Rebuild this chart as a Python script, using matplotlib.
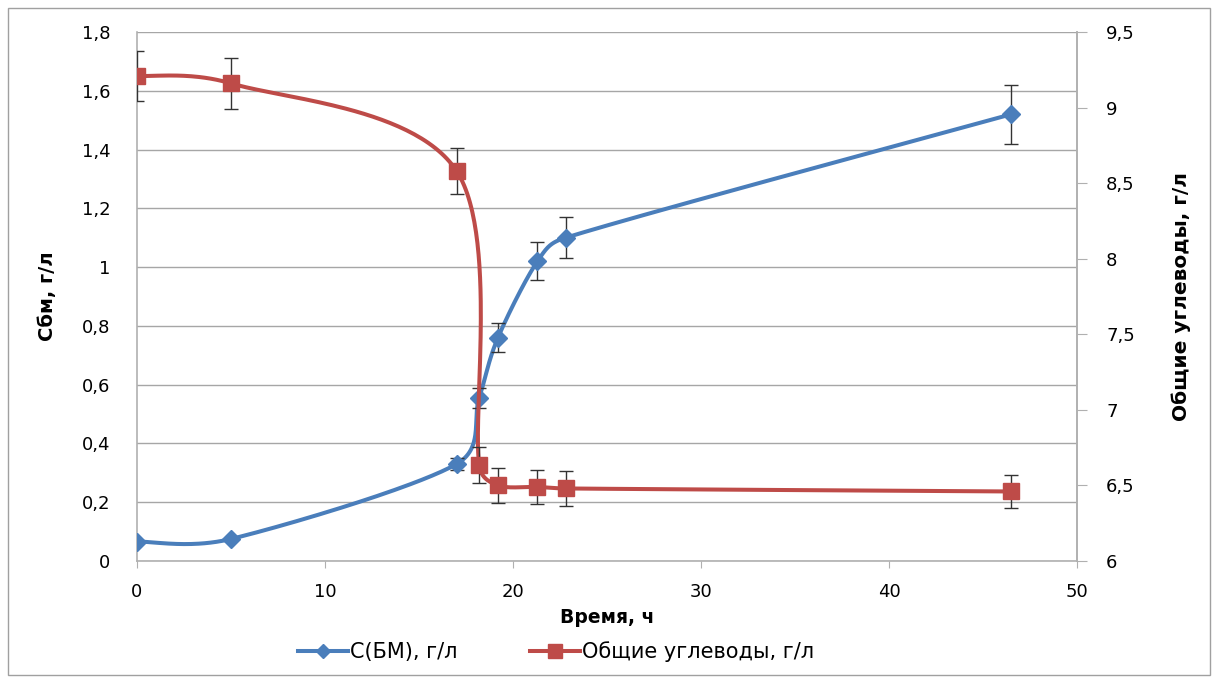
import numpy as np
import matplotlib.pyplot as plt
from matplotlib.ticker import FuncFormatter

# time, h
t = [0, 5, 17, 18.2, 19.2, 21.3, 22.8, 46.5]
# C(BM), g/l
biomass = [0.066, 0.075, 0.33, 0.555, 0.76, 1.02, 1.10, 1.52]
biomass_err = [0, 0, 0.02, 0.034, 0.05, 0.065, 0.07, 0.10]
# total carbohydrates, g/l
carbs = [9.21, 9.16, 8.58, 6.635, 6.50, 6.49, 6.48, 6.46]
carbs_err = [0.165, 0.17, 0.15, 0.12, 0.115, 0.115, 0.115, 0.11]

blue = '#4a7ebb'
red = '#be4b48'
grid_c = '#a6a6a6'


def excel_smooth(ax, x, y, n=60):
    # Excel-like smoothing: cubic Bezier in display space, arms clamped
    pts = ax.transData.transform(np.column_stack([x, y]))
    m = len(pts)
    tang = []
    for i in range(m):
        a = pts[max(i - 1, 0)]
        b = pts[min(i + 1, m - 1)]
        tang.append((b - a) / 6)
    out = []
    for i in range(m - 1):
        p1, p2 = pts[i], pts[i + 1]
        seg_len = np.hypot(*(p2 - p1))
        t1, t2 = tang[i], tang[i + 1]
        l1, l2 = np.hypot(*t1), np.hypot(*t2)
        lim = seg_len * 0.45
        if l1 > lim:
            t1 = t1 * lim / l1
        if l2 > lim:
            t2 = t2 * lim / l2
        c1 = p1 + t1
        c2 = p2 - t2
        s = np.linspace(0, 1, n)[:, None]
        seg = ((1 - s) ** 3) * p1 + 3 * ((1 - s) ** 2) * s * c1 + 3 * (1 - s) * s ** 2 * c2 + s ** 3 * p2
        out.append(seg)
    out = np.vstack(out)
    d = ax.transData.inverted().transform(out)
    return d[:, 0], d[:, 1]


comma = FuncFormatter(lambda v, p: ('%g' % round(v, 2)).replace('.', ','))

fig = plt.figure(figsize=(12.18, 6.83), dpi=100)
ax = fig.add_axes([137 / 1218, 1 - 561 / 683, (1077 - 137) / 1218, (561 - 32) / 683])
ax2 = ax.twinx()

ax.set_xlim(0, 50)
ax.set_ylim(0, 1.8)
ax2.set_ylim(6, 9.5)
ax.set_xticks(np.arange(0, 51, 10))
ax.set_yticks(np.arange(0, 1.81, 0.2))
ax2.set_yticks(np.arange(6, 9.51, 0.5))
ax.yaxis.set_major_formatter(comma)
ax2.yaxis.set_major_formatter(comma)

ax.grid(axis='y', color=grid_c, lw=1)
ax.set_axisbelow(True)
for a in (ax, ax2):
    a.spines['top'].set_visible(False)
    for s in ('left', 'right', 'bottom'):
        a.spines[s].set_color('#b0b0b0')
        a.spines[s].set_linewidth(1.2)
ax.tick_params(axis='y', length=0, labelsize=13, pad=19)
ax.tick_params(axis='x', length=5, color='#b0b0b0', labelsize=13, pad=11)
ax2.tick_params(axis='y', length=7, color='#b0b0b0', labelsize=13, pad=14)
ax2.spines['left'].set_visible(False)
ax2.spines['bottom'].set_visible(False)

fig.canvas.draw()

bx, by = excel_smooth(ax, t, biomass)
ax.plot(bx, by, color=blue, lw=2.9, zorder=3)
ax.errorbar(t, biomass, yerr=biomass_err, fmt='none', ecolor='#333333', elinewidth=1, capsize=5, zorder=4)
ax.plot(t, biomass, 'D', color=blue, ms=9, zorder=5)

rx, ry = excel_smooth(ax2, t, carbs)
ax2.plot(rx, ry, color=red, lw=2.9, zorder=3)
ax2.errorbar(t, carbs, yerr=carbs_err, fmt='none', ecolor='#333333', elinewidth=1, capsize=5, zorder=4)
ax2.plot(t, carbs, 's', color=red, ms=12, zorder=5)

ax.set_xlabel('Время, ч', fontsize=13.5, fontweight='bold', labelpad=5)
ax.set_ylabel('Сбм, г/л', fontsize=14, fontweight='bold', labelpad=18)
ax2.set_ylabel('Общие углеводы, г/л', fontsize=14.5, fontweight='bold', labelpad=26)

h1, = ax.plot([], [], color=blue, lw=2.9, marker='D', ms=7)
h2, = ax.plot([], [], color=red, lw=2.9, marker='s', ms=10)
fig.legend([h1, h2], ['С(БМ), г/л', 'Общие углеводы, г/л'], loc='center',
           bbox_to_anchor=(556 / 1218, 1 - 652 / 683), ncol=2, frameon=False,
           fontsize=15, handlelength=2.4, handletextpad=0.1, columnspacing=3.5)

fig.patches.append(plt.Rectangle((8 / 1218, 8 / 683), 1202 / 1218, 667 / 683,
                                 transform=fig.transFigure, fill=False, ec='#a0a0a0', lw=1))

fig.savefig('out.png', dpi=100)
